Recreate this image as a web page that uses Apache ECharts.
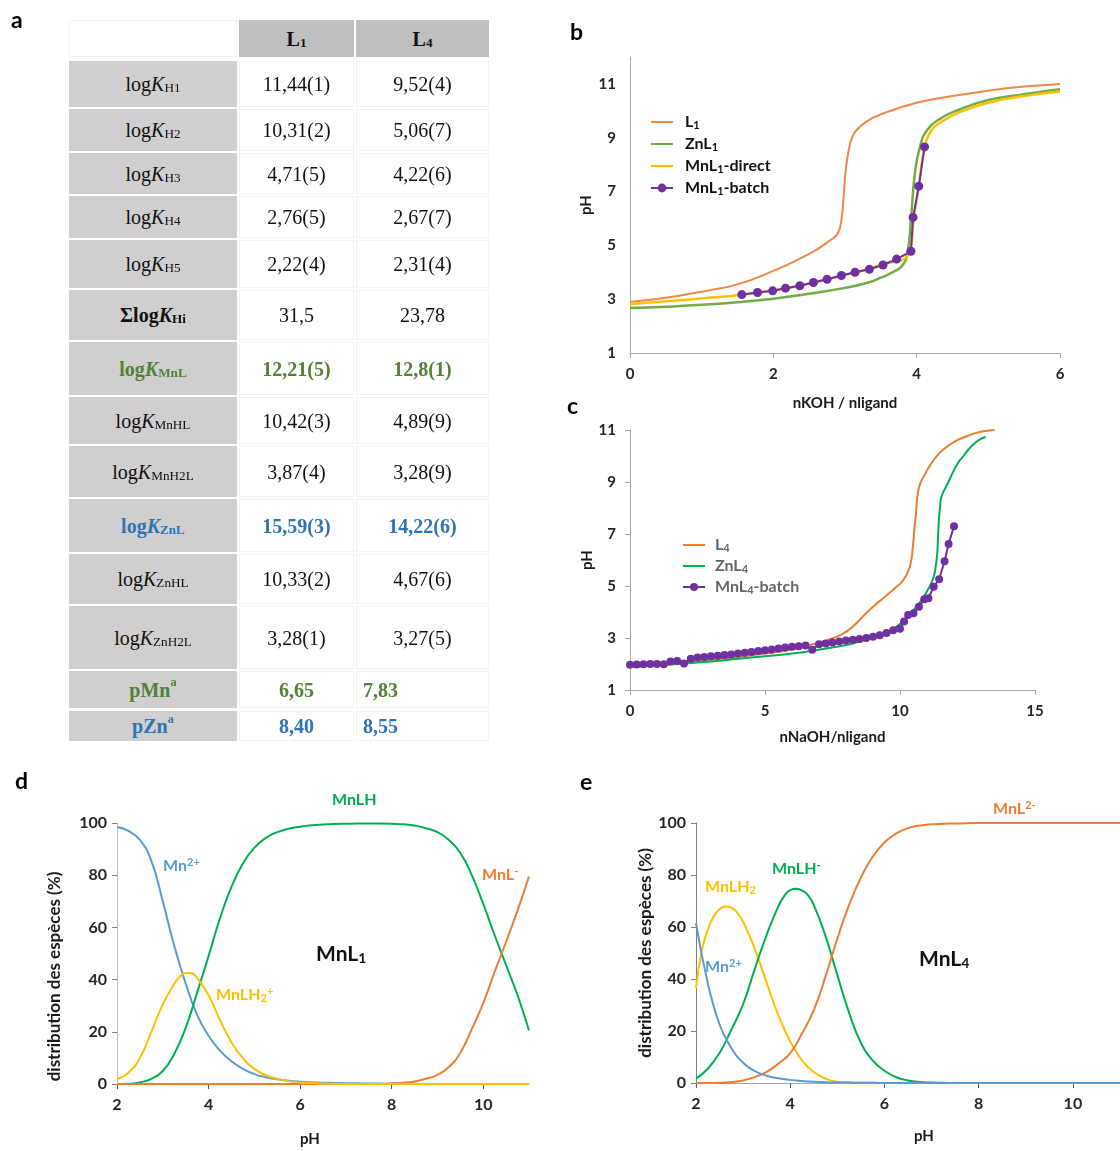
<!DOCTYPE html>
<html><head><meta charset="utf-8">
<script src="https://cdn.jsdelivr.net/npm/echarts@6/dist/echarts.min.js"></script>
<style>
html,body{margin:0;padding:0;background:#fff;overflow:hidden;width:1120px;height:1151px;}
#chart{position:absolute;left:0;top:0;width:1120px;height:1151px;}
#tbl{position:absolute;left:0;top:0;}
.cell{position:absolute;display:flex;align-items:center;justify-content:center;font-family:"Liberation Serif","Times New Roman",serif;font-size:20px;color:#111;box-sizing:border-box;line-height:1;white-space:nowrap;}
.lab{background:#d0cece;}
.hdr{background:#bfbfbf;font-weight:bold;}
.val{background:#fff;border:1px solid #f3f3f3;}
.blank{background:#fff;border:1px solid #f3f3f3;}
.cell sub{font-size:0.66em;position:relative;top:0.3em;vertical-align:baseline;}
.cell sup{font-size:0.62em;position:relative;top:-0.55em;vertical-align:baseline;}
</style></head>
<body><div id="chart"></div><div id="tbl"></div>
<script>
// ---------------- TABLE DATA (panel a) ----------------
const tableHeaders = ['1', '4'];               // L1, L4
const rowKSubs = ['H1','H2','H3','H4','H5','Hi','MnL','MnHL','MnH2L','ZnL','ZnHL','ZnH2L'];
const rowPLabels = ['pMn','pZn'];
const colL1 = ['11,44(1)','10,31(2)','4,71(5)','2,76(5)','2,22(4)','31,5','12,21(5)','10,42(3)','3,87(4)','15,59(3)','10,33(2)','3,28(1)','6,65','8,40'];
const colL4 = ['9,52(4)','5,06(7)','4,22(6)','2,67(7)','2,31(4)','23,78','12,8(1)','4,89(9)','3,28(9)','14,22(6)','4,67(6)','3,27(5)','7,83','8,55'];

// ---------------- PANEL b ----------------
const b_L1 = [[0,2.9],[0.5,3.05],[1,3.28],[1.5,3.55],[2,4.05],[2.5,4.68],[2.8,5.2],[2.9,5.45],[2.95,5.95],[2.98,6.8],[3.01,7.8],[3.05,8.5],[3.09,8.95],[3.15,9.25],[3.3,9.6],[3.5,9.87],[4,10.3],[4.5,10.55],[5,10.75],[5.5,10.9],[6,11.0]];
const b_ZnL1 = [[0,2.67],[0.5,2.72],[1,2.79],[1.5,2.89],[2,3.02],[2.5,3.2],[3,3.42],[3.3,3.6],[3.5,3.8],[3.7,4.05],[3.8,4.25],[3.87,4.7],[3.92,5.95],[3.97,7.55],[4.04,8.6],[4.15,9.3],[4.35,9.74],[4.6,10.05],[5,10.4],[5.5,10.62],[6,10.8]];
const b_MnL1direct = [[0,2.82],[0.5,2.92],[1,3.03],[1.5,3.15],[2,3.32],[2.5,3.58],[3,3.9],[3.5,4.27],[3.9,4.75],[3.96,6.0],[4.03,7.2],[4.1,8.5],[4.2,9.25],[4.35,9.6],[4.6,9.95],[5,10.3],[5.5,10.55],[6,10.72]];
const b_MnL1batch = [[1.56,3.17],[1.78,3.25],[1.99,3.31],[2.17,3.41],[2.37,3.5],[2.56,3.62],[2.75,3.74],[2.95,3.88],[3.14,4.0],[3.34,4.11],[3.53,4.27],[3.72,4.49],[3.92,4.78],[3.95,6.04],[4.03,7.2],[4.11,8.66]];

// ---------------- PANEL c ----------------
const c_L4 = [[0,1.92],[1,1.99],[2,2.07],[3,2.16],[4,2.27],[5,2.4],[6,2.56],[6.87,2.79],[7.4,2.95],[7.8,3.12],[8.18,3.37],[8.6,3.8],[9.0,4.2],[9.4,4.55],[9.8,4.9],[10.1,5.2],[10.3,5.55],[10.41,5.95],[10.47,6.45],[10.53,7.15],[10.6,7.9],[10.66,8.57],[10.75,8.95],[10.9,9.25],[11.1,9.62],[11.4,10.04],[11.7,10.33],[12.02,10.55],[12.4,10.73],[12.76,10.87],[13.1,10.95],[13.5,11.0]];
const c_ZnL4 = [[0,1.88],[1,1.95],[2,2.02],[3,2.1],[4,2.2],[5,2.3],[6,2.4],[7,2.55],[7.6,2.65],[8.18,2.77],[8.7,2.92],[9.17,3.08],[9.5,3.2],[9.79,3.37],[10.16,3.69],[10.4,3.95],[10.66,4.27],[10.85,4.55],[11.03,4.85],[11.15,5.1],[11.25,5.36],[11.33,5.8],[11.38,6.26],[11.41,6.9],[11.44,7.54],[11.48,8.0],[11.52,8.37],[11.62,8.65],[11.77,8.95],[11.95,9.35],[12.14,9.72],[12.35,10.0],[12.52,10.23],[12.83,10.55],[13.17,10.74]];
const c_MnL4batch = [[0,1.97],[0.25,1.98],[0.5,1.99],[0.75,2.0],[1,2.0],[1.25,1.99],[1.5,2.1],[1.75,2.12],[2,2.02],[2.25,2.2],[2.5,2.25],[2.75,2.27],[3,2.3],[3.25,2.32],[3.5,2.35],[3.75,2.37],[4,2.4],[4.25,2.43],[4.5,2.46],[4.75,2.5],[5,2.53],[5.25,2.56],[5.5,2.6],[5.75,2.63],[6,2.66],[6.25,2.68],[6.5,2.71],[6.75,2.55],[7,2.76],[7.25,2.79],[7.5,2.83],[7.75,2.87],[8,2.9],[8.25,2.93],[8.5,2.96],[8.75,3.0],[9,3.05],[9.25,3.11],[9.5,3.19],[9.75,3.3],[10,3.36],[10.15,3.63],[10.3,3.88],[10.5,3.95],[10.7,4.2],[10.9,4.49],[11.05,4.53],[11.25,4.97],[11.45,5.26],[11.65,5.95],[11.8,6.62],[12.0,7.3]];

// ---------------- PANEL d (MnL1 speciation) ----------------
const pH_d = [2,2.25,2.5,2.75,3,3.25,3.5,3.75,4,4.25,4.5,4.75,5,5.25,5.5,5.75,6,6.25,6.5,6.75,7,7.25,7.5,7.75,8,8.25,8.5,8.75,9,9.25,9.5,9.75,10,10.25,10.5,10.75,11];
const d_Mn = [98.5,97,93.5,85.5,70,53,38.5,26.5,18.5,12.8,8.7,5.8,3.8,2.6,1.8,1.25,0.9,0.7,0.5,0.4,0.3,0.25,0.2,0.15,0.1,0.1,0.05,0,0,0,0,0,0,0,0,0,0];
const d_MnLH2 = [[2,1.8],[2.25,4.3],[2.5,10],[2.75,20],[3,30.5],[3.25,38.3],[3.375,41.2],[3.5,42.5],[3.625,42.4],[3.75,40.7],[4,34],[4.25,24.5],[4.5,16],[4.75,9.8],[5,5.8],[5.25,3.4],[5.5,2],[5.75,1.1],[6,0.6],[6.25,0.4],[6.5,0.2],[6.75,0.1],[7,0],[7.5,0],[8,0],[8.5,0],[9,0],[9.5,0],[10,0],[10.5,0],[11,0]];
const d_MnLH = [0,0.1,0.6,2,5,11.5,21.5,35,49,63.5,75.5,84.5,90.5,94.3,96.5,97.8,98.6,99.1,99.4,99.6,99.7,99.8,99.8,99.8,99.7,99.5,99,98,96.5,93.5,88.5,80,69,57,45.5,34,20.5];
const d_MnL = [0,0,0,0,0,0,0,0,0,0,0,0,0,0,0,0,0,0,0,0,0,0,0,0,0.3,0.5,1,2,3.5,6.5,12,21,31,43,54.5,66.5,79.5];

// ---------------- PANEL e (MnL4 speciation) ----------------
const pH_e = [2,2.25,2.5,2.75,3,3.25,3.5,3.75,4,4.25,4.5,4.75,5,5.25,5.5,5.75,6,6.25,6.5,6.75,7,7.25,7.5,7.75,8,8.25,8.5,8.75,9,9.25,9.5,9.75,10,10.25,10.5,10.75,11];
const e_Mn = [61.5,38.5,22.5,13.5,7.8,4.6,2.8,1.8,1.2,0.8,0.5,0.3,0.2,0.15,0.1,0.05,0,0,0,0,0,0,0,0,0,0,0,0,0,0,0,0,0,0,0,0,0];
const e_MnLH2 = [[2,36.5],[2.125,51],[2.25,59],[2.375,64],[2.5,66.8],[2.625,67.9],[2.75,67.4],[2.875,65.5],[3,62],[3.25,51.5],[3.5,38.5],[3.75,26],[4,16],[4.25,8.7],[4.5,4.2],[4.75,1.7],[5,0.5],[5.25,0.2],[5.5,0.1],[6,0],[7,0],[8,0],[9,0],[10,0],[11,0]];
const e_MnLH = [[2,1.7],[2.25,5.5],[2.5,11.5],[2.75,20.5],[3,30.3],[3.25,44],[3.5,57],[3.75,68],[3.875,72],[4,74.2],[4.125,74.7],[4.25,74.0],[4.375,72.3],[4.5,68.5],[4.75,56.5],[5,41.5],[5.25,27],[5.5,15.5],[5.75,8.7],[6,4.7],[6.25,2.2],[6.5,1.0],[6.75,0.4],[7,0.2],[7.25,0.1],[7.5,0],[8,0],[9,0],[10,0],[11,0]];
const e_MnL = [0,0,0.1,0.4,1.0,2.3,4.3,7.5,11.5,19,28,41,55.5,68.5,79,87,92.5,96,98,99,99.5,99.7,99.8,99.9,100,100,100,100,100,100,100,100,100,100,100,100,100];

// ================= build table =================
const colX = [69, 239, 356];
const colW = [168, 115, 133];
const rowTop = [61,109,153,196,240,290,342,397,446,499,554,606,671,711];
const rowH   = [46,42,41,42,48,50,53,47,51,53,50,63,37,30];
const rowKind = ['n','n','n','n','n','sum','mn','n','n','zn','n','n','mnp','znp'];
const GREEN_T = '#538135', BLUE_T = '#2E74B5';
const tbl = document.getElementById('tbl');
function cell(x,y,w,h,cls,html,style){
  const d=document.createElement('div');
  d.className='cell '+cls;
  d.style.cssText='left:'+x+'px;top:'+y+'px;width:'+w+'px;height:'+h+'px;'+(style||'');
  d.innerHTML=html; tbl.appendChild(d);
}
cell(colX[0],20,colW[0],37,'blank','');
cell(colX[1],20,colW[1],37,'hdr','L<sub>'+tableHeaders[0]+'</sub>');
cell(colX[2],20,colW[2],37,'hdr','L<sub>'+tableHeaders[1]+'</sub>');
for (let i=0;i<rowTop.length;i++){
  const k = rowKind[i];
  let label, st='', vst='';
  if (i < rowKSubs.length){
    label = (k==='sum'?'Σ':'')+'log<i>K</i><sub>'+rowKSubs[i]+'</sub>';
  } else {
    label = rowPLabels[i-rowKSubs.length]+'<sup>a</sup>';
  }
  if (k==='sum'){ st='font-weight:bold;'; }
  if (k==='mn'||k==='mnp'){ st='font-weight:bold;color:'+GREEN_T+';'; vst=st; }
  if (k==='zn'||k==='znp'){ st='font-weight:bold;color:'+BLUE_T+';'; vst=st; }
  cell(colX[0],rowTop[i],colW[0],rowH[i],'lab',label,st);
  cell(colX[1],rowTop[i],colW[1],rowH[i],'val',colL1[i],vst);
  const left3 = (k==='mnp'||k==='znp') ? 'justify-content:flex-start;padding-left:6px;' : '';
  cell(colX[2],rowTop[i],colW[2],rowH[i],'val',colL4[i],vst+left3);
}

// ================= charts =================
const FONT = 'Lato, "Open Sans", sans-serif';
const AX = '#a6a6a6';
const lblStyle = {fontFamily:FONT,fontWeight:'bold',fontSize:15,color:'#262626'};
const lblStyle16 = {fontFamily:FONT,fontWeight:'bold',fontSize:16,color:'#262626'};
const nameStyle = {fontFamily:FONT,fontWeight:'bold',fontSize:15,color:'#1a1a1a'};
const ORANGE='#ED7D31', GREEN_B='#70AD47', GREEN='#00B050', YELLOW='#FFC000', PURPLE='#7030A0', BLUE='#5B9BD5';

function zip(xs, ys){ return xs.map((x,i)=>[x, ys[i]]); }
function subify(n){ return n.replace(/₁/g,'{s|1}').replace(/₄/g,'{s|4}'); }
function lineOnly(n){ return {name:n, itemStyle:{opacity:0}}; }

function txt(x,y,parts,color,size,weight){
  return {type:'text', x:x, y:y, silent:true,
    style:{text:parts, fill:color, fontFamily:FONT, fontSize:size, fontWeight:weight||'bold', align:'left', verticalAlign:'middle',
      rich:{
        m:{fill:color,fontFamily:FONT,fontSize:size,fontWeight:weight||'bold'},
        s:{fill:color,fontFamily:FONT,fontSize:Math.round(size*0.68),fontWeight:weight||'bold',padding:[Math.round(size*0.45),0,0,0]},
        p:{fill:color,fontFamily:FONT,fontSize:Math.round(size*0.68),fontWeight:weight||'bold',padding:[0,0,Math.round(size*0.5),0]}
      }}};
}
function letter(x,y,t){ return {type:'text',x:x,y:y,silent:true,style:{text:t,fill:'#000',fontFamily:FONT,fontSize:23,fontWeight:'bold',align:'left',verticalAlign:'middle'}}; }

const chart = echarts.init(document.getElementById('chart'), null, {renderer:'canvas'});
const option = {
  animation:false,
  backgroundColor:'transparent',
  grid:[
    {left:630, top:57, width:430, height:296},
    {left:630, top:430, width:405, height:260},
    {left:117, top:823, width:412, height:261},
    {left:696, top:823, width:432, height:260}
  ],
  xAxis:[
    {gridIndex:0,type:'value',min:0,max:6,interval:2,splitLine:{show:false},
     axisLine:{lineStyle:{color:AX}},axisTick:{show:true,length:5,lineStyle:{color:AX}},
     axisLabel:Object.assign({margin:14},lblStyle),
     name:'nKOH / nligand',nameLocation:'middle',nameGap:43,nameTextStyle:nameStyle},
    {gridIndex:1,type:'value',min:0,max:15,interval:5,splitLine:{show:false},
     axisLine:{lineStyle:{color:AX}},axisTick:{show:true,length:5,lineStyle:{color:AX}},
     axisLabel:Object.assign({margin:14},lblStyle),
     name:'nNaOH/nligand',nameLocation:'middle',nameGap:40,nameTextStyle:nameStyle},
    {gridIndex:2,type:'value',min:2,max:11,interval:2,splitLine:{show:false},
     axisLine:{lineStyle:{color:AX}},axisTick:{show:true,length:5,lineStyle:{color:'#595959'}},
     axisLabel:Object.assign({margin:13,showMaxLabel:false},lblStyle16),
     name:'pH',nameLocation:'middle',nameGap:48,nameTextStyle:Object.assign({padding:[0,26,0,0]},nameStyle)},
    {gridIndex:3,type:'value',min:2,max:11,interval:2,splitLine:{show:false},
     axisLine:{lineStyle:{color:AX}},axisTick:{show:true,length:5,lineStyle:{color:'#595959'}},
     axisLabel:Object.assign({margin:13,showMaxLabel:false},lblStyle16),
     name:'pH',nameLocation:'middle',nameGap:46,nameTextStyle:Object.assign({padding:[0,0,0,32]},nameStyle)}
  ],
  yAxis:[
    {gridIndex:0,type:'value',min:1,max:12,interval:1,splitLine:{show:false},
     axisLine:{show:true,lineStyle:{color:AX}},axisTick:{show:false},
     axisLabel:Object.assign({margin:14,formatter:v=>(v%2===1&&v<=11)?String(v):''},lblStyle),
     name:'pH',nameLocation:'middle',nameGap:36,nameTextStyle:nameStyle},
    {gridIndex:1,type:'value',min:1,max:11,interval:1,splitLine:{show:false},
     axisLine:{show:true,lineStyle:{color:AX}},
     axisTick:{show:true,length:5,lineStyle:{color:AX},customValues:[1,3,5,7,9,11]},
     axisLabel:Object.assign({margin:14,formatter:v=>(v%2===1)?String(v):''},lblStyle),
     name:'pH',nameLocation:'middle',nameGap:33,nameTextStyle:nameStyle},
    {gridIndex:2,type:'value',min:0,max:100,interval:20,splitLine:{show:false},
     axisLine:{show:true,lineStyle:{color:'#bfbfbf'}},axisTick:{show:true,length:5,lineStyle:{color:'#7f7f7f'}},
     axisLabel:Object.assign({margin:10},lblStyle16),
     name:'distribution des espèces (%)',nameLocation:'middle',nameGap:54,nameTextStyle:Object.assign({},nameStyle,{fontSize:17,padding:[0,46,0,0]})},
    {gridIndex:3,type:'value',min:0,max:100,interval:20,splitLine:{show:false},
     axisLine:{show:true,lineStyle:{color:'#7f7f7f'}},axisTick:{show:true,length:5,lineStyle:{color:'#7f7f7f'}},
     axisLabel:Object.assign({margin:10},lblStyle16),
     name:'distribution des espèces (%)',nameLocation:'middle',nameGap:42,nameTextStyle:Object.assign({},nameStyle,{fontSize:17})}
  ],
  legend:[
    {left:645, top:109, orient:'vertical', itemWidth:22, itemHeight:11, itemGap:5,
     data:[lineOnly('L₁'),lineOnly('ZnL₁'),lineOnly('MnL₁-direct'),'MnL₁-batch'],
     formatter:subify,
     textStyle:{fontFamily:FONT,fontWeight:'bold',fontSize:16,color:'#111',padding:[0,0,0,7],
       rich:{s:{fontSize:11,fontWeight:'bold',fontFamily:FONT,color:'#111',padding:[7,0,0,0]}}}},
    {left:677, top:532, orient:'vertical', itemWidth:22, itemHeight:10, itemGap:4,
     data:[lineOnly('L₄'),lineOnly('ZnL₄'),'MnL₄-batch'],
     formatter:subify,
     textStyle:{fontFamily:FONT,fontWeight:'bold',fontSize:16,color:'#666',padding:[0,0,0,5],
       rich:{s:{fontSize:11,fontWeight:'bold',fontFamily:FONT,color:'#666',padding:[7,0,0,0]}}}}
  ],
  series:[
    // b
    {type:'line',name:'L₁',xAxisIndex:0,yAxisIndex:0,data:b_L1,symbol:'none',smooth:0.5,lineStyle:{color:'#F0884A',width:2},itemStyle:{color:'#F0884A'}},
    {type:'line',name:'ZnL₁',xAxisIndex:0,yAxisIndex:0,data:b_ZnL1,symbol:'none',smooth:0.5,lineStyle:{color:GREEN_B,width:2.5},itemStyle:{color:GREEN_B}},
    {type:'line',name:'MnL₁-direct',xAxisIndex:0,yAxisIndex:0,data:b_MnL1direct,symbol:'none',smooth:0.5,lineStyle:{color:YELLOW,width:2.5},itemStyle:{color:YELLOW}},
    {type:'line',name:'MnL₁-batch',xAxisIndex:0,yAxisIndex:0,data:b_MnL1batch,symbol:'circle',symbolSize:9,lineStyle:{color:PURPLE,width:2},itemStyle:{color:PURPLE}},
    // c
    {type:'line',name:'L₄',xAxisIndex:1,yAxisIndex:1,data:c_L4,symbol:'none',smooth:0.5,lineStyle:{color:ORANGE,width:2},itemStyle:{color:ORANGE}},
    {type:'line',name:'MnL₄-batch',xAxisIndex:1,yAxisIndex:1,data:c_MnL4batch,symbol:'circle',symbolSize:8,lineStyle:{color:PURPLE,width:2},itemStyle:{color:PURPLE}},
    {type:'line',name:'ZnL₄',xAxisIndex:1,yAxisIndex:1,data:c_ZnL4,symbol:'none',smooth:0.5,lineStyle:{color:GREEN,width:2},itemStyle:{color:GREEN}},
    // d
    {type:'line',name:'Mn²⁺ (L₁)',xAxisIndex:2,yAxisIndex:2,data:zip(pH_d,d_Mn),symbol:'none',smooth:0.5,lineStyle:{color:BLUE,width:2},itemStyle:{color:BLUE}},
    {type:'line',name:'MnLH (L₁)',xAxisIndex:2,yAxisIndex:2,data:zip(pH_d,d_MnLH),symbol:'none',smooth:0.5,lineStyle:{color:GREEN,width:2},itemStyle:{color:GREEN}},
    {type:'line',name:'MnL⁻ (L₁)',xAxisIndex:2,yAxisIndex:2,data:zip(pH_d,d_MnL),symbol:'none',smooth:0.5,lineStyle:{color:ORANGE,width:2},itemStyle:{color:ORANGE}},
    {type:'line',name:'MnLH₂⁺ (L₁)',xAxisIndex:2,yAxisIndex:2,data:d_MnLH2,symbol:'none',smooth:0.5,lineStyle:{color:YELLOW,width:2},itemStyle:{color:YELLOW}},
    // e
    {type:'line',name:'MnLH₂ (L₄)',xAxisIndex:3,yAxisIndex:3,data:e_MnLH2,symbol:'none',smooth:0.5,lineStyle:{color:YELLOW,width:2},itemStyle:{color:YELLOW}},
    {type:'line',name:'MnLH⁻ (L₄)',xAxisIndex:3,yAxisIndex:3,data:e_MnLH,symbol:'none',smooth:0.5,lineStyle:{color:GREEN,width:2},itemStyle:{color:GREEN}},
    {type:'line',name:'MnL²⁻ (L₄)',xAxisIndex:3,yAxisIndex:3,data:zip(pH_e,e_MnL),symbol:'none',smooth:0.5,lineStyle:{color:ORANGE,width:2},itemStyle:{color:ORANGE}},
    {type:'line',name:'Mn²⁺ (L₄)',xAxisIndex:3,yAxisIndex:3,data:zip(pH_e,e_Mn),symbol:'none',smooth:0.5,lineStyle:{color:BLUE,width:2},itemStyle:{color:BLUE}}
  ],
  graphic:[
    letter(11,21,'a'), letter(570,33,'b'), letter(567,407,'c'), letter(15,782,'d'), letter(580,783,'e'),
    // d annotations
    txt(163,866,'{m|Mn}{p|2+}',BLUE,16),
    txt(332,800,'{m|MnLH}',GREEN,16),
    txt(482,875,'{m|MnL}{p|-}',ORANGE,16),
    txt(216,995,'{m|MnLH}{s|2}{p|+}',YELLOW,16),
    txt(316,954,'{m|MnL}{s|1}','#111',21,'bold'),
    // e annotations
    txt(993,809,'{m|MnL}{p|2-}',ORANGE,16),
    txt(772,869,'{m|MnLH}{p|-}',GREEN,16),
    txt(705,887,'{m|MnLH}{s|2}',YELLOW,16),
    txt(705,967,'{m|Mn}{p|2+}',BLUE,16),
    txt(919,959,'{m|MnL}{s|4}','#111',21,'bold')
  ]
};
chart.setOption(option);
</script>
</body></html>
